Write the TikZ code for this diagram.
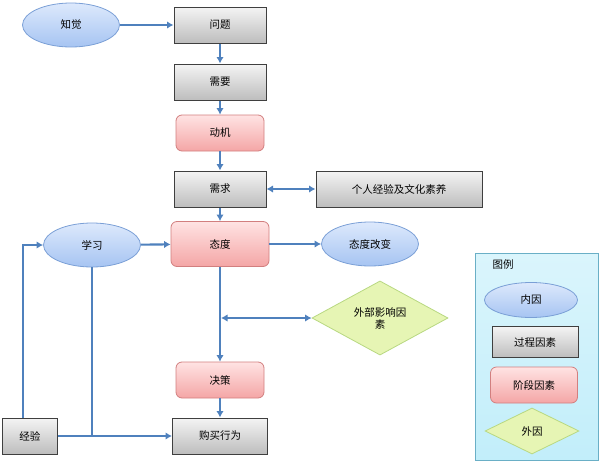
\documentclass[tikz,border=0pt]{standalone}
\usepackage{fontspec}
\setmainfont{Noto Sans CJK SC}
\usetikzlibrary{arrows.meta, shapes.geometric}

\definecolor{arrowblue}{HTML}{4F81BD}
\definecolor{ellfilltop}{HTML}{DDE9FC}
\definecolor{ellfillbot}{HTML}{A6C4F2}
\definecolor{elledge}{HTML}{7A9FD6}
\definecolor{boxfilltop}{HTML}{F4F4F4}
\definecolor{boxfillbot}{HTML}{BDBDBD}
\definecolor{boxedge}{HTML}{3F3F3F}
\definecolor{stagefilltop}{HTML}{FFE3E3}
\definecolor{stagefillbot}{HTML}{F4A6A6}
\definecolor{stageedge}{HTML}{D27F7F}
\definecolor{diafill}{HTML}{E6F5B4}
\definecolor{diaedge}{HTML}{B8D881}
\definecolor{legendfill}{HTML}{C2EEFA}
\definecolor{legendedge}{HTML}{6AAFC6}

\tikzset{
  every node/.style={font=\fontsize{10.5}{12}\selectfont},
  innercause/.style={ellipse, draw=elledge, line width=0.8pt, top color=ellfilltop, bottom color=ellfillbot, minimum width=97pt, minimum height=44pt, inner sep=0pt},
  processbox/.style={rectangle, draw=boxedge, line width=1pt, top color=boxfilltop, bottom color=boxfillbot, minimum width=92pt, minimum height=36pt, inner sep=0pt},
  stagebox/.style={rectangle, rounded corners=6pt, draw=stageedge, line width=0.8pt, top color=stagefilltop, bottom color=stagefillbot, minimum width=88pt, minimum height=36pt, inner sep=0pt},
  outercause/.style={diamond, draw=diaedge, line width=0.8pt, fill=diafill, minimum width=136pt, minimum height=67pt, inner sep=0pt, align=center},
  flow/.style={draw=arrowblue, line width=2.1pt, -{Latex[length=6.5pt,width=7.5pt]}},
  twoway/.style={draw=arrowblue, line width=2.1pt, {Latex[length=6.5pt,width=7.5pt]}-{Latex[length=6.5pt,width=7.5pt]}},
  plainline/.style={draw=arrowblue, line width=2.1pt},
}

\begin{document}
\begin{tikzpicture}[x=1pt, y=-1pt]
  \useasboundingbox (0,0) rectangle (600,463);

  % main chain
  \node[innercause] (zhijue) at (71,25) {知觉};
  \node[processbox] (wenti) at (220,25) {问题};
  \node[processbox] (xuyao) at (220,82) {需要};
  \node[stagebox] (dongji) at (220,133) {动机};
  \node[processbox] (xuqiu) at (220,189) {需求};
  \node[processbox, minimum width=166pt] (jingyan) at (399,189) {个人经验及文化素养};
  \node[stagebox, minimum width=98pt, minimum height=45pt] (taidu) at (220,244) {态度};
  \node[innercause] (gaibian) at (370,244) {态度改变};
  \node[innercause] (xuexi) at (92,245) {学习};
  \node[outercause] (waibu) at (380,318) {外部影响因\\素};
  \node[stagebox] (juece) at (220,380) {决策};
  \node[processbox, minimum width=95pt] (goumai) at (220,436) {购买行为};
  \node[processbox, minimum width=55pt] (jingli) at (30,436) {经验};
  \coordinate (waibujoin) at (221,318);

  \draw[flow] (zhijue) -- (wenti);
  \draw[flow] (wenti) -- (xuyao);
  \draw[flow] (xuyao) -- (dongji);
  \draw[flow] (dongji) -- (xuqiu);
  \draw[twoway] (xuqiu) -- (jingyan);
  \draw[flow] (xuqiu) -- (taidu);
  \draw[flow] (xuexi) -- (taidu);
  \draw[flow] (taidu) -- (gaibian);
  \draw[flow] (taidu) -- (juece);
  \draw[twoway] (waibujoin) -- (waibu);
  \draw[flow] (juece) -- (goumai);
  \draw[flow] (jingli) -- (goumai);
  \draw[flow] ([xshift=-7pt]jingli.north) |- (xuexi.west);
  \draw[plainline] (xuexi.south) -- (xuexi.south |- jingli.east);

  % legend
  \node[draw=legendedge, line width=0.8pt, top color=legendfill!60, bottom color=legendfill, minimum width=123pt, minimum height=207pt] (legend) at (536.5,356.5) {};
  \node[anchor=west] (legendtitle) at (489,265) {图例};
  \node[innercause, minimum width=93pt, minimum height=35pt] (keyinner) at (531,300) {内因};
  \node[processbox, minimum width=86pt, minimum height=31pt] (keyprocess) at (535,342) {过程因素};
  \node[stagebox, minimum width=87pt, minimum height=36pt] (keystage) at (534,385) {阶段因素};
  \node[outercause, minimum width=94pt, minimum height=46pt] (keyouter) at (532,431) {外因};
\end{tikzpicture}
\end{document}
